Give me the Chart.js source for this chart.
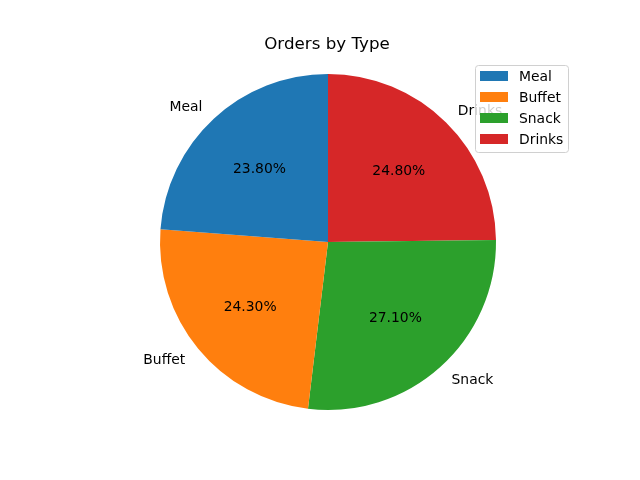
<!DOCTYPE html>
<html>
<head>
<meta charset="utf-8">
<script src="https://cdn.jsdelivr.net/npm/chart.js@4/dist/chart.umd.min.js"></script>
<style>
html,body{margin:0;padding:0;background:#fff;}
#wrap{width:640px;height:480px;}
</style>
</head>
<body>
<div id="wrap"><canvas id="c" width="640" height="480"></canvas></div>
<script>
const categories = ["Meal", "Buffet", "Snack", "Drinks"];
const values = [23.8, 24.3, 27.1, 24.8];
const colors = ["#1f77b4", "#ff7f0e", "#2ca02c", "#d62728"];
const chartTitle = "Orders by Type";

// matplotlib draws counter-clockwise from the top; Chart.js draws clockwise,
// so feed the series in reverse order.
const rLabels = categories.slice().reverse();
const rValues = values.slice().reverse();
const rColors = colors.slice().reverse();
const total = values.reduce((a, b) => a + b, 0);

const FONT = '"DejaVu Sans", sans-serif';

const textPlugin = {
  id: 'mplText',
  afterDraw(chart) {
    const ctx = chart.ctx;
    const meta = chart.getDatasetMeta(0);
    ctx.save();
    ctx.fillStyle = '#000';
    ctx.font = '13.9px ' + FONT;
    ctx.textBaseline = 'middle';
    meta.data.forEach((arc, i) => {
      const mid = (arc.startAngle + arc.endAngle) / 2;
      const r = arc.outerRadius;
      const cx = arc.x, cy = arc.y;
      // category label at 1.1 r
      const lx = cx + Math.cos(mid) * r * 1.1;
      const ly = cy + Math.sin(mid) * r * 1.1;
      ctx.textAlign = (lx > cx) ? 'left' : 'right';
      ctx.fillText(rLabels[i], lx, ly + 1);
      // percentage at 0.6 r
      const px = cx + Math.cos(mid) * r * 0.6;
      const py = cy + Math.sin(mid) * r * 0.6;
      ctx.textAlign = 'center';
      ctx.fillText((rValues[i] / total * 100).toFixed(2) + '%', px, py + 1);
    });
    // title
    ctx.font = '16.7px ' + FONT;
    ctx.textAlign = 'center';
    ctx.textBaseline = 'alphabetic';
    ctx.fillText(chartTitle, 327, 49);
    // legend
    const lx0 = 475.5, ly0 = 65.5, lw = 93, lh = 87;
    ctx.fillStyle = 'rgba(255,255,255,0.8)';
    ctx.strokeStyle = '#d0d0d0';
    ctx.lineWidth = 1;
    ctx.beginPath();
    ctx.roundRect(lx0, ly0, lw, lh, 3);
    ctx.fill();
    ctx.stroke();
    ctx.font = '13.9px ' + FONT;
    ctx.textAlign = 'left';
    ctx.textBaseline = 'middle';
    categories.forEach((name, i) => {
      const y = 76 + i * 21;
      ctx.fillStyle = colors[i];
      ctx.fillRect(480, y - 5, 28, 10);
      ctx.fillStyle = '#000';
      ctx.fillText(name, 519, y + 1.5);
    });
    ctx.restore();
  }
};

new Chart(document.getElementById('c'), {
  type: 'pie',
  data: {
    labels: rLabels,
    datasets: [{
      data: rValues,
      backgroundColor: rColors,
      borderWidth: 0,
      hoverOffset: 0
    }]
  },
  options: {
    responsive: false,
    animation: false,
    rotation: 0,
    layout: { padding: { top: 74, bottom: 70, left: 160, right: 144 } },
    plugins: {
      legend: { display: false },
      title: { display: false },
      tooltip: { enabled: false }
    }
  },
  plugins: [textPlugin]
});
</script>
</body>
</html>
